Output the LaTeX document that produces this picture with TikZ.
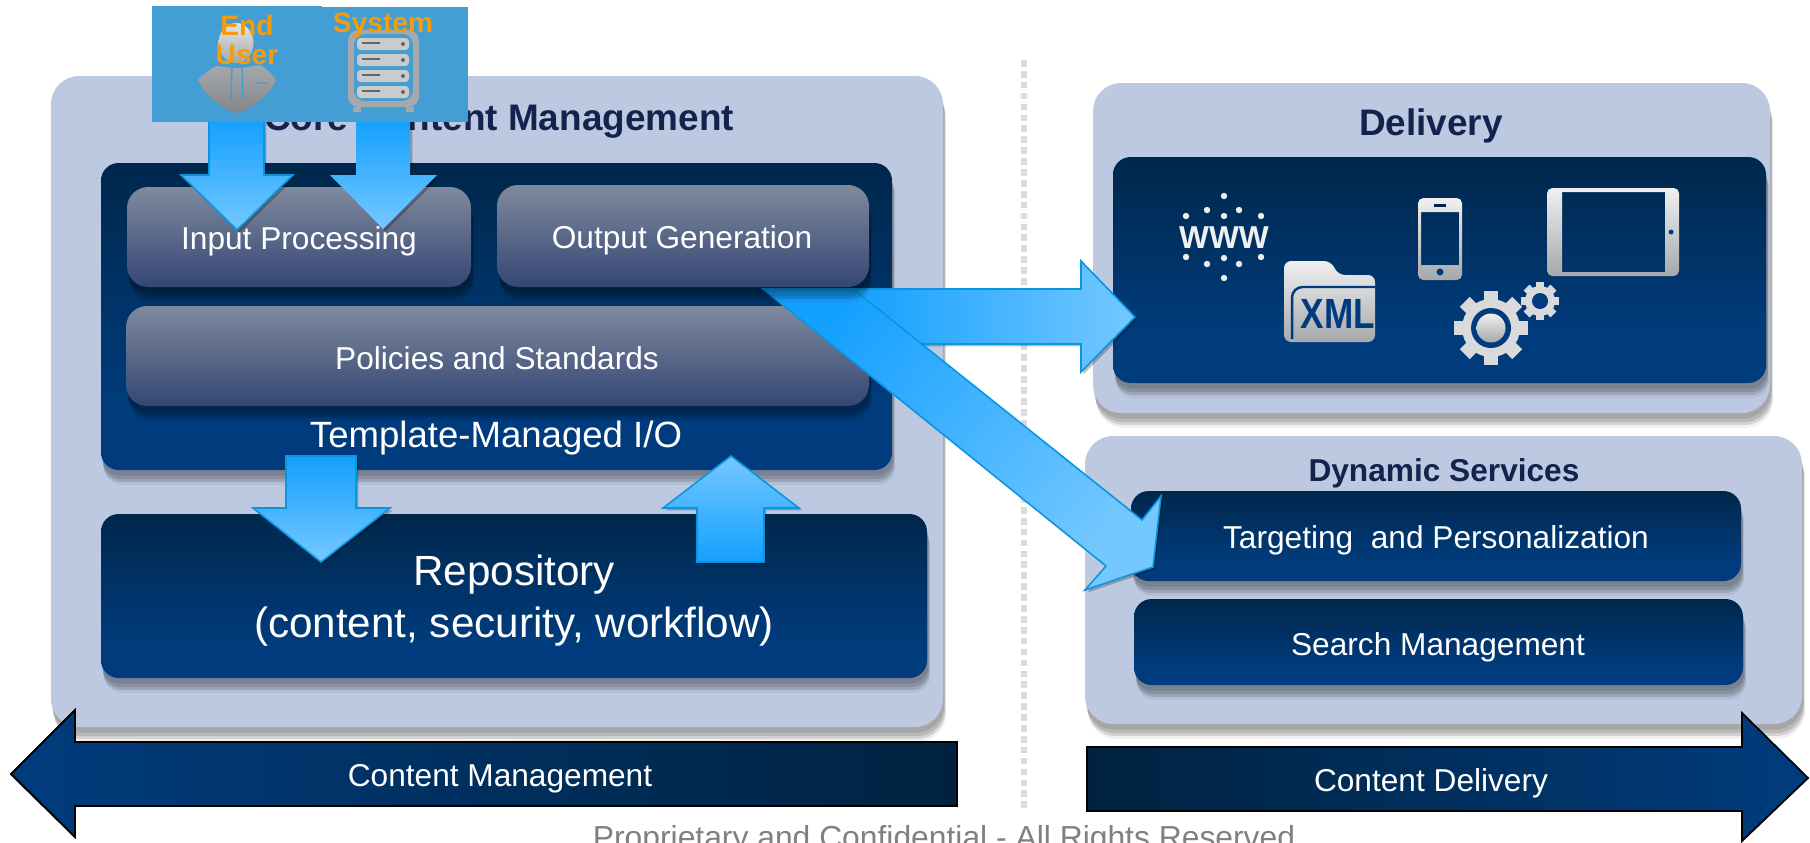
\documentclass[tikz,border=0pt]{standalone}
\usepackage{fontspec}
\setmainfont{Liberation Sans}
\usetikzlibrary{shadows}

\definecolor{panelblue}{RGB}{189,201,225}
\definecolor{navytop}{RGB}{0,34,63}
\definecolor{navybot}{RGB}{0,60,125}
\definecolor{slatetop}{RGB}{138,147,163}
\definecolor{slatebot}{RGB}{44,64,112}
\definecolor{arrowdeep}{RGB}{20,160,255}
\definecolor{arrowlight}{RGB}{117,200,255}
\definecolor{arrowedge}{RGB}{10,150,222}
\definecolor{iconblue}{RGB}{67,158,211}
\definecolor{titlenavy}{RGB}{18,35,78}
\definecolor{silverlight}{RGB}{240,240,240}
\definecolor{silverdark}{RGB}{165,168,172}
\definecolor{whoorange}{RGB}{243,156,12}

\pgfdeclareverticalshading{navybar}{100bp}{color(0bp)=(navybot); color(35bp)=(navybot); color(85bp)=(navytop); color(100bp)=(navytop)}
\pgfdeclareverticalshading{slatebar}{100bp}{color(0bp)=(slatebot); color(20bp)=(slatebot); color(82bp)=(slatetop); color(100bp)=(slatetop)}

\tikzset{
  softshadow/.style={
    general shadow={fill=black,opacity=.06,shadow xshift=.9pt,shadow yshift=-4.2pt},
    general shadow={fill=black,opacity=.12,shadow xshift=.7pt,shadow yshift=-3.4pt},
    general shadow={fill=black,opacity=.12,shadow xshift=.5pt,shadow yshift=-2.6pt},
    general shadow={fill=black,opacity=.1,shadow xshift=.3pt,shadow yshift=-1.6pt}},
  panel/.style={fill=panelblue,rounded corners=8pt,softshadow},
  navybox/.style={shading=navybar,rounded corners=5pt,softshadow},
  slatebox/.style={shading=slatebar,rounded corners=6pt,softshadow},
  blockarrow/.style={top color=arrowdeep,bottom color=arrowlight,shading angle=#1,
    general shadow={fill=black,opacity=.25,shadow xshift=.7pt,shadow yshift=-.7pt}},
  arrowline/.style={draw=arrowedge,line width=.45pt},
  banner/.style={draw=black,line width=.5pt,left color=#1,right color=navytop},
  silver/.style={top color=silverlight,bottom color=silverdark},
  lbl/.style={text=white,font=\fontsize{9}{11}\selectfont,inner sep=0pt},
  headline/.style={text=titlenavy,font=\bfseries\fontsize{10.5}{12}\selectfont,inner sep=0pt},
  who/.style={text=whoorange,font=\bfseries\fontsize{8}{10}\selectfont,inner sep=0pt},
}

\begin{document}
\begin{tikzpicture}[x=0.01cm,y=-0.01cm]
  \useasboundingbox (0,0) rectangle (1810,842);

  % divider
  \draw[gray!28,line width=1.7pt,dash pattern=on 1.9pt off 1.2pt] (1024,60)--(1024,808);

  % left and right panels
  \path[panel] (51,76) rectangle (943,727);
  \path[panel] (1093,83) rectangle (1770,413);
  \path[panel] (1085,436) rectangle (1802,724);

  % core content management
  \node[headline] (coretitle) at (499,122) {Core Content Management};
  \shade[navybox] (101,163) rectangle (892,470);
  \shade[slatebox] (127,187) rectangle (471,287);
  \shade[slatebox] (126,306) rectangle (869,406);
  \shade[navybox] (101,514) rectangle (927,678);
  \node[lbl] (inputlbl) at (299,241) {Input Processing};
  \node[lbl] (policieslbl) at (497,358) {Policies and Standards};
  \node[lbl,font=\fontsize{10.4}{12}\selectfont] (templatelbl) at (496,438) {Template-Managed I/O};
  \node[lbl,align=center,font=\fontsize{12}{14.8}\selectfont] (repolbl) at (514,601) {Repository\\(content, security, workflow)};

  % delivery
  \node[headline] (deliverytitle) at (1431,126) {Delivery};
  \shade[navybox] (1113,157) rectangle (1766,383);

  % dynamic services
  \node[headline,font=\bfseries\fontsize{9}{11}\selectfont] (servicestitle) at (1444,473) {Dynamic Services};
  \shade[navybox] (1131,491) rectangle (1741,581);
  \shade[navybox] (1134,599) rectangle (1743,685);
  \node[lbl] (targetlbl) at (1436,540) {Targeting\ \ and Personalization};
  \node[lbl] (searchlbl) at (1438,647) {Search Management};

  % www
  \foreach \dotx/\doty in {1224/196,1186/216,1207/210,1224/216,1239/210,1261/216,1186/257,1207/264,1224/258,1239/264,1261/257,1224/278}
    \fill[silverlight] (\dotx,\doty) circle (3.2);
  \node[inner sep=0pt,text=silverlight,font=\bfseries\fontsize{9}{11}\selectfont] (wwwlbl) at (1224,238) {WWW};

  % xml folder
  \shade[silver,rounded corners=2pt] (1284,342)--(1284,261)--(1331,261)--(1338,275)--(1375,275)--(1375,342)--cycle;
  \draw[navybot,line width=.7pt,rounded corners=3pt] (1292,339)--(1292,287)--(1375,287);
  \node[inner sep=0pt,text=navybot,font=\bfseries\fontsize{10}{12}\selectfont] (xmllbl) at (1338,314) {\scalebox{1}[1.2]{XML}};

  % phone
  \shade[silver,rounded corners=1.5pt,even odd rule] (1418,198) rectangle (1462,280) [sharp corners] (1421,212) rectangle (1459,265);
  \fill[navytop] (1434,204) rectangle (1446,207);
  \fill[navybot] (1440,272) circle (3.5);

  % tablet
  \shade[silver,rounded corners=1.5pt,even odd rule] (1547,188) rectangle (1679,276) [sharp corners] (1562,192) rectangle (1665,272);
  \fill[navybot] (1671,232) circle (2.5);

  % gears
  \begin{scope}[shift={(1491,328)}]
    \foreach \a in {0,45,...,315}
      \draw[silverlight!70!silverdark,line width=4pt] (0,0)--(\a:37);
    \fill[silverlight!70!silverdark] (0,0) circle (29);
    \fill[navybot] (0,0) circle (20);
    \shade[silver] (0,0) circle (14.5);
  \end{scope}
  \begin{scope}[shift={(1540,301)}]
    \foreach \a in {0,45,...,315}
      \draw[silverlight!70!silverdark,line width=2.4pt] (0,0)--(\a:19);
    \fill[silverlight!70!silverdark] (0,0) circle (15);
    \fill[navybot] (0,0) circle (8);
  \end{scope}

  % arrows out of output generation
  \shade[blockarrow=90] (853,289)--(1081,289)--(1081,261)--(1135,317)--(1081,372)--(1081,344)--(880,344)--cycle;
  \draw[arrowline] (853,289)--(1081,289)--(1081,261)--(1135,317)--(1081,372)--(1081,344)--(922,344);
  \shade[blockarrow=50] (763,289)--(853,289)--(1142,520)--(1161,496)--(1153,567)--(1085,590)--(1106,566)--cycle;
  \draw[arrowline] (763,289)--(853,289)--(1142,520)--(1161,496)--(1153,567)--(1085,590)--(1106,566)--cycle;
  \shade[slatebox] (497,185) rectangle (869,287);
  \node[lbl] (outputlbl) at (682,240) {Output Generation};

  % arrows to and from the repository
  \shade[blockarrow=0] (286,456)--(356,456)--(356,508)--(390,508)--(321,562)--(253,508)--(286,508)--cycle;
  \draw[arrowline] (286,456)--(356,456)--(356,508)--(390,508)--(321,562)--(253,508)--(286,508)--cycle;
  \shade[blockarrow=180] (697,562)--(764,562)--(764,508)--(799,508)--(731,456)--(663,508)--(697,508)--cycle;
  \draw[arrowline] (697,562)--(764,562)--(764,508)--(799,508)--(731,456)--(663,508)--(697,508)--cycle;

  % arrows from end user and system
  \shade[blockarrow=0] (209,120)--(264,120)--(264,175)--(293,175)--(237,230)--(181,175)--(209,175)--cycle;
  \draw[arrowline] (209,120)--(264,120)--(264,175)--(293,175)--(237,230)--(181,175)--(209,175)--cycle;
  \shade[blockarrow=0] (356,120)--(410,120)--(410,175)--(437,175)--(383,229)--(330,175)--(356,175)--cycle;

  % end user and system icons
  \fill[iconblue] (152,6) rectangle (322,122);
  \fill[iconblue] (322,7) rectangle (468,122);
  \shade[top color=silverlight!85!silverdark,bottom color=silverdark] (236,43) ellipse (17.5 and 20);
  \shade[top color=silverdark,bottom color=silverdark!80!black] (198,80)
    .. controls (203,74) and (210,69) .. (217,66)--(232,68)--(242,68)--(260,65)
    .. controls (267,69) and (272,74) .. (276,80)
    .. controls (270,95) and (250,110) .. (237,113)
    .. controls (224,110) and (204,95) .. (198,80)--cycle;
  \draw[iconblue,line width=.4pt] (232,68)--(231,100) (242,68)--(243,100) (255,83)--(267,83);

  \fill[silverdark,rounded corners=3pt,even odd rule] (348,30) rectangle (419,107) (354,34) rectangle (413,101);
  \fill[silverdark] (353,107) rectangle (361,112) (406,107) rectangle (414,112);
  \foreach \drawery in {38,54,70,86} {
    \fill[silverdark!60!white,rounded corners=1pt] (357,\drawery) rectangle (409,\drawery+12);
    \draw[silverdark!60!black,line width=.4pt] (362,\drawery+5)--(380,\drawery+5);
    \fill[silverdark!60!black] (403,\drawery+6) circle (2);
  }
  \node[who] (endlbl) at (247,25) {End};
  \node[who] (userlbl) at (247,55) {User};
  \node[who] (systemlbl) at (383,26) {System};

  % banners
  \shade[banner=navybot] (11,774)--(75,710)--(75,742)--(957,742)--(957,806)--(75,806)--(75,837)--cycle;
  \draw[black,line width=.5pt] (11,774)--(75,710)--(75,742)--(957,742)--(957,806)--(75,806)--(75,837)--cycle;
  \node[lbl] (managelbl) at (500,779) {Content Management};
  \shade[left color=navytop,right color=navybot] (1808,778)--(1742,713)--(1742,747)--(1087,747)--(1087,811)--(1742,811)--(1742,841)--cycle;
  \draw[black,line width=.5pt] (1808,778)--(1742,713)--(1742,747)--(1087,747)--(1087,811)--(1742,811)--(1742,841)--cycle;
  \node[lbl] (deliverlbl) at (1431,783) {Content Delivery};

  \node[anchor=base,inner sep=0pt,text=gray,font=\fontsize{9.05}{10}\selectfont] (footer) at (944,848) {Proprietary and Confidential - All Rights Reserved};
\end{tikzpicture}
\end{document}
